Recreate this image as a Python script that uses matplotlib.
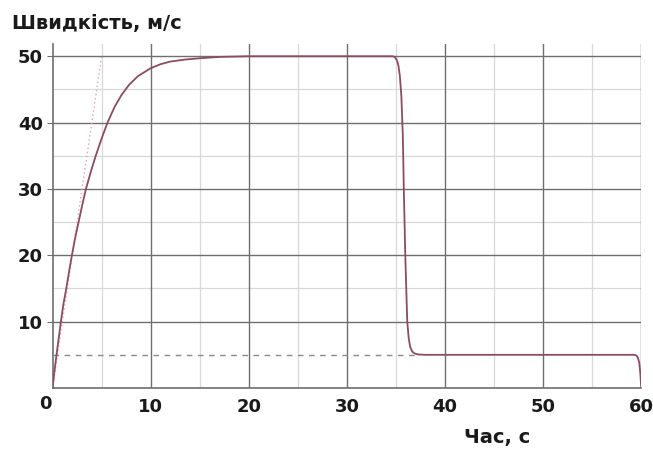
import matplotlib
matplotlib.use("Agg")
import matplotlib.pyplot as plt
import numpy as np

# Data
time_s = [0, 0.2, 0.4, 0.6, 0.85, 1.1, 1.4, 1.7, 1.97, 2.3, 2.65, 3.0, 3.4, 3.9, 4.4, 5.0, 5.6,
          6.3, 7.0, 7.8, 8.7, 10, 11, 12, 13.5, 15, 17, 20,
          34.7, 34.9, 35.1, 35.25, 35.4, 35.55, 35.7, 35.8, 35.95, 36.15, 36.3, 36.45, 36.65,
          36.9, 37.3, 38,
          59.3, 59.5, 59.65, 59.8, 59.9, 60]
speed = [0, 2.6, 5, 7.2, 10, 12.6, 15, 17.7, 20, 22.6, 25, 27.4, 30, 32.6, 35, 37.6, 40,
         42.3, 44.1, 45.7, 47.0, 48.2, 48.8, 49.2, 49.5, 49.7, 49.9, 50,
         50, 49.85, 49.4, 48.6, 47, 44, 38, 30, 20, 10, 7.5, 6.2, 5.5,
         5.2, 5.05, 5,
         5, 4.9, 4.6, 3.8, 2.3, 0]
tangent_t = [0, 5]
tangent_v = [0, 50]
ref_t = [0, 37]
ref_v = [5, 5]
x_ticks = [10, 20, 30, 40, 50, 60]
y_ticks = [10, 20, 30, 40, 50]

plt.rcParams['font.family'] = ['DejaVu Sans']

fig = plt.figure(figsize=(6.53, 4.5), dpi=100)
ax = fig.add_axes([0.0805, 0.1378, 0.9015, 0.7652])

ax.set_xlim(0, 60)
ax.set_ylim(0, 51.9)

# grid
for v in [5, 15, 25, 35, 45, 55]:
    ax.axvline(v, color='#d8d8d8', lw=0.9, zorder=0)
for v in [15, 25, 35, 45]:
    ax.axhline(v, color='#d8d8d8', lw=0.9, zorder=0)
for v in x_ticks:
    ax.axvline(v, color='#6e6e6e', lw=1.0, zorder=1)
for v in y_ticks:
    ax.axhline(v, color='#6e6e6e', lw=1.0, zorder=1)

ax.plot(ref_t, ref_v, color='#8a8a8a', lw=1.0, ls=(0, (4, 4)), zorder=2)
ax.plot(tangent_t, tangent_v, color='#e8a0b0', lw=1.0, ls=(0, (1, 2)), zorder=2)
ax.plot(time_s, speed, color='#8a4c64', lw=1.3, zorder=3)

for s in ['top', 'right']:
    ax.spines[s].set_visible(False)
for s in ['left', 'bottom']:
    ax.spines[s].set_color('#6e6e6e')
    ax.spines[s].set_linewidth(1.2)

ax.set_xticks(x_ticks)
ax.set_yticks(y_ticks)
ax.tick_params(axis='y', length=4, color='#6e6e6e', pad=3)
ax.tick_params(axis='x', length=0, pad=7)
for lab in ax.get_xticklabels() + ax.get_yticklabels():
    lab.set_fontsize(13)
    lab.set_fontweight('bold')
    lab.set_color('#1a1a1a')

fig.text(45 / 653, 1 - 404 / 450, '0', fontsize=13, fontweight='bold', color='#1a1a1a',
         ha='center', va='center')
fig.text(12 / 653, 1 - 23 / 450, 'Швидкість, м/с', fontsize=14, fontweight='bold',
         color='#1a1a1a', ha='left', va='center')
fig.text(497 / 653, 1 - 438 / 450, 'Час, с', fontsize=14, fontweight='bold',
         color='#1a1a1a', ha='center', va='center')

fig.savefig('out.png', dpi=100)
